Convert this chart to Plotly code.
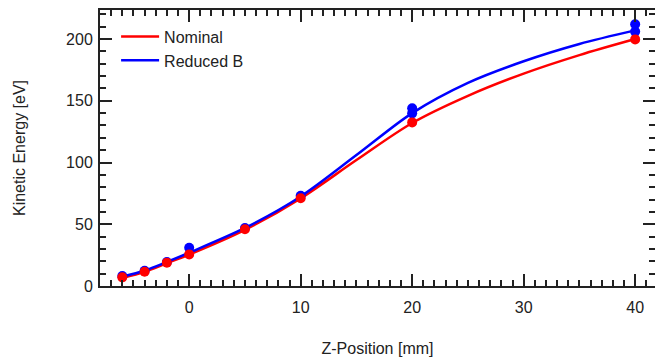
import plotly.graph_objects as go

# Measured points
z_nom = [-6, -4, -2, 0, 5, 10, 20, 40]
ke_nom = [7.0, 11.6, 18.9, 25.6, 45.9, 71.0, 132.5, 199.7]

z_red = [-6, -4, -2, 0, 5, 10, 20, 20, 40, 40]
ke_red = [8.0, 12.3, 19.5, 31.0, 47.0, 73.0, 143.9, 139.8, 212.0, 206.0]

# Smooth curves
z_curve = [-6, -4, -2, 0, 5, 10, 15, 20, 25, 30, 35, 40]
curve_nom = [6.5, 11.5, 18.5, 25.5, 45.5, 71.0, 102.0, 132.0, 154.0, 172.0, 187.0, 200.0]
curve_red = [7.5, 12.5, 19.5, 27.0, 47.0, 72.5, 106.0, 140.0, 164.5, 182.0, 196.0, 207.0]

RED = "#ff0000"
BLUE = "#0000ff"
FONT = "Liberation Sans, Arial, sans-serif"

fig = go.Figure()
fig.add_trace(go.Scatter(x=z_curve, y=curve_nom, mode="lines", name="Nominal",
                         line=dict(color=RED, width=2.5, shape="spline", smoothing=0.9)))
fig.add_trace(go.Scatter(x=z_curve, y=curve_red, mode="lines", name="Reduced B",
                         line=dict(color=BLUE, width=2.5, shape="spline", smoothing=0.9)))
fig.add_trace(go.Scatter(x=z_red, y=ke_red, mode="markers", showlegend=False,
                         marker=dict(color=BLUE, size=10)))
fig.add_trace(go.Scatter(x=z_nom, y=ke_nom, mode="markers", showlegend=False,
                         marker=dict(color=RED, size=10)))

axis_common = dict(
    showline=True, linecolor="#222", linewidth=2, mirror="ticks",
    ticks="inside", ticklen=12, tickwidth=1.5, tickcolor="#222",
    showgrid=False, zeroline=False,
    tickfont=dict(family=FONT, size=16, color="#222"),
    title_font=dict(family=FONT, size=16, color="#222"),
)

fig.update_xaxes(
    range=[-8, 41.78], tickmode="linear", tick0=0, dtick=10,
    minor=dict(ticks="inside", ticklen=6, tickwidth=1.5, tickcolor="#222", dtick=1, tick0=0, showgrid=False),
    title_text="Z-Position [mm]", title_standoff=28, ticklabelstandoff=6,
    **axis_common,
)
fig.update_yaxes(
    range=[0, 223.5], tickmode="linear", tick0=0, dtick=50,
    minor=dict(ticks="inside", ticklen=6, tickwidth=1.5, tickcolor="#222", dtick=10, tick0=0, showgrid=False),
    title_text="Kinetic Energy [eV]", title_standoff=36, ticklabelstandoff=2,
    **axis_common,
)

fig.update_layout(
    width=655, height=362,
    margin=dict(l=100, r=0, t=10, b=76, autoexpand=False),
    paper_bgcolor="white", plot_bgcolor="white",
    font=dict(family=FONT, size=16, color="#222"),
    legend=dict(x=0.029, y=0.965, xanchor="left", yanchor="top",
                bgcolor="rgba(0,0,0,0)", font=dict(family=FONT, size=16, color="#222"),
                tracegroupgap=0, itemwidth=38),
    showlegend=True,
)

fig.write_html("out.html")
